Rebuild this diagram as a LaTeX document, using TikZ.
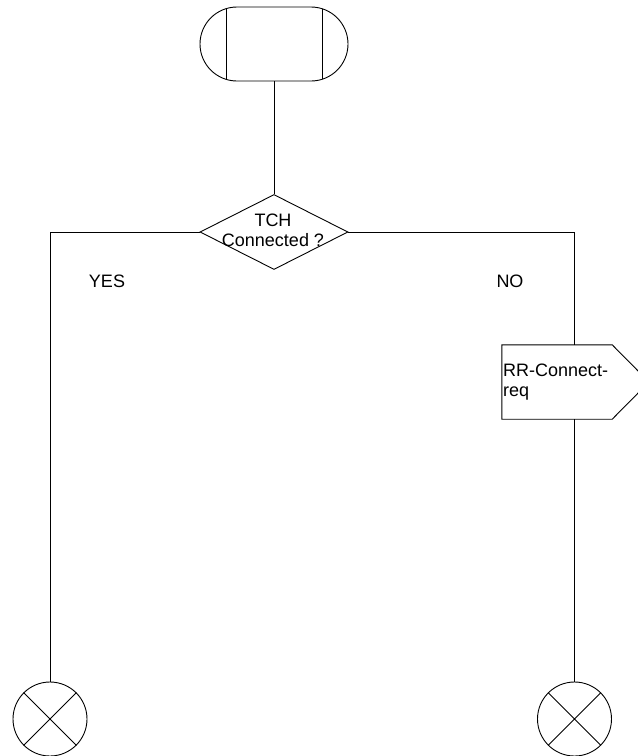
\documentclass[tikz,border=0pt]{standalone}
\usepackage{fontspec}
\setmainfont{Liberation Sans}
\usetikzlibrary{shapes.geometric,shapes.misc}
\begin{document}
\begin{tikzpicture}[x=1pt,y=-1pt,
  ln/.style={line width=0.9pt, draw=black},
  lbl/.style={font=\fontsize{18}{20}\selectfont, inner sep=0pt},
  term/.style={circle, ln, minimum size=74pt, inner sep=0pt}]
\useasboundingbox (0,0) rectangle (638,756);
% start symbol
\node[rounded rectangle, ln, minimum width=148pt, minimum height=74pt, inner sep=0pt] (start) at (274,44) {};
\draw[ln] (226,8.7) -- (226,79.3) (322,8.7) -- (322,79.3);
% decision
\node[diamond, ln, minimum width=148pt, minimum height=75pt, inner sep=0pt] (dec) at (274,232) {};
\node[lbl, align=center] (dectxt) at (273,230) {TCH\\Connected ?};
% output signal
\node[minimum width=110pt, minimum height=74pt, inner sep=0pt] (out) at (557,382) {};
\draw[ln] (out.north west) -- (out.north east) -- (649,382) -- (out.south east) -- (out.south west) -- cycle;
\node[lbl, align=left, anchor=west] (outtxt) at (503,382) {RR-Connect-\\req};
% terminators
\node[term] (lc) at (50,719) {};
\draw[ln] (lc.north west) -- (lc.south east) (lc.north east) -- (lc.south west);
\node[term] (rc) at (574.5,719) {};
\draw[ln] (rc.north west) -- (rc.south east) (rc.north east) -- (rc.south west);
% labels
\node[lbl] (yes) at (107,281) {YES};
\node[lbl] (no) at (510,281) {NO};
% connectors
\draw[ln] (start.south) -- (dec.north);
\draw[ln] (dec.west) -| (lc.north);
\draw[ln] (dec.east) -| (rc.north |- out.north);
\draw[ln] (rc.north |- out.south) -- (rc.north);
\end{tikzpicture}
\end{document}
